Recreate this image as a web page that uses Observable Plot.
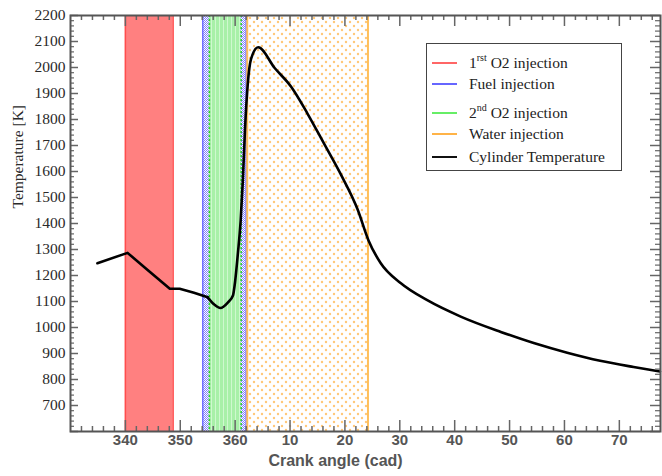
<!DOCTYPE html>
<html><head><meta charset="utf-8">
<script src="https://cdn.jsdelivr.net/npm/d3@7"></script>
<script src="https://cdn.jsdelivr.net/npm/@observablehq/plot@0.6"></script>
<style>
body{margin:0;background:#fff;}
#wrap{position:relative;width:662px;height:476px;}
#legend{position:absolute;left:426px;top:43px;width:196px;height:128px;border:1.5px solid #444;background:#fff;font-family:"Liberation Serif","Times New Roman",serif;font-size:15.5px;color:#222;box-sizing:border-box}
.row{position:absolute;left:0;height:20px;display:flex;align-items:center;white-space:nowrap}
.sw{width:25px;height:0;border-top:2px solid;margin-left:5px;margin-right:12px}
.sup{font-size:10px;position:relative;top:-7px}
</style>
</head><body>
<div id="wrap"></div>
<script>
// ---- data ----
const angle = [334.9, 340.4, 344.0, 348.1, 349.9, 352.5, 355.0, 356.2, 357.3, 358.7, 359.6, 360.0, 360.5, 361.0, 361.4, 361.8, 362.3, 362.9, 364.2, 367.2, 370.2, 373.2, 376.2, 379.3, 382.3, 384.3, 386.5, 390.2, 395.0, 401.1, 408.4, 414.4, 420.5, 426.5, 432.6, 437.4];
const temperature = [1247, 1287, 1222, 1149, 1149, 1134, 1116, 1088, 1075, 1097, 1123, 1178, 1285, 1410, 1565, 1765, 1937, 2033, 2078, 1998, 1926, 1822, 1707, 1587, 1455, 1335, 1248, 1170, 1105, 1042, 983, 940, 903, 872, 848, 831];
const bandNames = ["1rst O2 injection", "Fuel injection", "2nd O2 injection", "Water injection"];
const bandStart = [340, 354.1, 355.3, 362.2];
const bandEnd = [348.7, 362.0, 361.1, 384.2];
const xTickValues = [340, 350, 360, 370, 380, 390, 400, 410, 420, 430];
const xTickLabels = ["340", "350", "360", "10", "20", "30", "40", "50", "60", "70"];
const yTickValues = [700, 800, 900, 1000, 1100, 1200, 1300, 1400, 1500, 1600, 1700, 1800, 1900, 2000, 2100, 2200];

// ---- styles ----
const bandFill = ["#ff8080", "url(#bluePat)", "url(#greenPat)", "url(#orangePat)"];
const bandEdge = ["#ff4d4d", "#6f6fff", "#2fcf2f", "#ffbf5a"];
const bandDash = [null, null, "2,2", null];

const W = 662, H = 476, mL = 70, mR = 2, mT = 15, mB = 45;
const innerW = W - mL - mR, innerH = H - mT - mB;

const curve = angle.map((a, i) => ({a, t: temperature[i]}));
const bands = bandNames.map((n, i) => ({name: n, i, start: bandStart[i], end: bandEnd[i]}));
const edges = bands.flatMap(b => [{x: b.start, i: b.i}, {x: b.end, i: b.i}]);
const xMinor = d3.range(330, 438, 2).filter(v => v % 10 !== 0);
const yMinor = d3.range(600, 2200, 20).filter(v => v % 100 !== 0);
const yMajorAll = [600, ...yTickValues];
const tickC = "#666";
const lineStyle = {x: "a", y: "t", stroke: "black", strokeWidth: 2.6, strokeLinejoin: "round", strokeLinecap: "round"};

const svg = Plot.plot({
  width: W, height: H,
  marginLeft: mL, marginRight: mR, marginTop: mT, marginBottom: mB,
  x: {domain: [330, 437.5], axis: null},
  y: {domain: [600, 2200], axis: null},
  color: {type: "identity"},
  style: {background: "white", overflow: "visible"},
  marks: [
    Plot.rect(bands, {x1: "start", x2: "end", fill: d => bandFill[d.i]}),
    ...edges.map(e => Plot.ruleX([e], {x: "x", stroke: bandEdge[e.i], strokeWidth: e.i === 3 ? 2 : 1.5, strokeDasharray: bandDash[e.i]})),
    Plot.line(curve.filter(d => d.a <= 355), {...lineStyle, curve: "linear"}),
    Plot.line(curve.filter(d => d.a >= 355), {...lineStyle, curve: "monotone-x"}),
    // inward ticks
    Plot.tickX(xMinor, {x: d => d, insetTop: innerH - 5, stroke: tickC, strokeWidth: 1.5}),
    Plot.tickX(xTickValues, {x: d => d, insetTop: innerH - 11, stroke: tickC, strokeWidth: 1.5}),
    Plot.tickX(xMinor, {x: d => d, insetBottom: innerH - 5, stroke: tickC, strokeWidth: 1.5}),
    Plot.tickX(xTickValues, {x: d => d, insetBottom: innerH - 11, stroke: tickC, strokeWidth: 1.5}),
    Plot.tickY(yMinor, {y: d => d, insetRight: innerW - 4, stroke: tickC, strokeWidth: 1.2}),
    Plot.tickY(yMajorAll, {y: d => d, insetRight: innerW - 8, stroke: tickC, strokeWidth: 1.5}),
    Plot.tickY(yMinor, {y: d => d, insetLeft: innerW - 5, stroke: tickC, strokeWidth: 1.2}),
    Plot.tickY(yMajorAll, {y: d => d, insetLeft: innerW - 10, stroke: tickC, strokeWidth: 1.5}),
    Plot.frame({stroke: "#555", strokeWidth: 2}),
    // tick labels
    Plot.text(xTickValues, {x: d => d, frameAnchor: "bottom", dy: 13, text: (d, i) => xTickLabels[i],
      fontSize: 15, fontWeight: "bold", fontFamily: "Liberation Sans, Arial, sans-serif", fill: "#555"}),
    Plot.text(yTickValues, {y: d => d, frameAnchor: "left", dx: -5, textAnchor: "end", text: d => String(d),
      fontSize: 15.5, fontFamily: "Liberation Serif, Times New Roman, serif", fill: "#2a2a2a"}),
    Plot.text(["Crank angle (cad)"], {frameAnchor: "bottom", dy: 34, dx: -30, text: d => d,
      fontSize: 16, fontWeight: "bold", fontFamily: "Liberation Sans, Arial, sans-serif", fill: "#555"}),
    Plot.text(["Temperature [K]"], {frameAnchor: "left", dx: -52, dy: -15, rotate: -90, text: d => d,
      fontSize: 15.5, fontFamily: "Liberation Serif, Times New Roman, serif", fill: "#2a2a2a"})
  ]
});

// patterns
const defs = d3.select(svg).insert("defs", ":first-child");
const bp = defs.append("pattern").attr("id", "bluePat").attr("patternUnits", "userSpaceOnUse").attr("width", 2).attr("height", 2);
bp.append("rect").attr("width", 2).attr("height", 2).attr("fill", "#ffffff");
bp.append("rect").attr("width", 1).attr("height", 1).attr("fill", "#8080ff");
bp.append("rect").attr("x", 1).attr("y", 1).attr("width", 1).attr("height", 1).attr("fill", "#8080ff");
const gp = defs.append("pattern").attr("id", "greenPat").attr("patternUnits", "userSpaceOnUse").attr("width", 4).attr("height", 4);
gp.append("rect").attr("width", 4).attr("height", 4).attr("fill", "#a8f0a8");
gp.append("rect").attr("x", 3).attr("width", 1).attr("height", 4).attr("fill", "#cff8cf");
const op = defs.append("pattern").attr("id", "orangePat").attr("patternUnits", "userSpaceOnUse").attr("width", 8).attr("height", 8);
op.append("rect").attr("width", 8).attr("height", 8).attr("fill", "#ffffff");
op.append("circle").attr("cx", 2).attr("cy", 2).attr("r", 1.2).attr("fill", "#ffc878");
op.append("circle").attr("cx", 6).attr("cy", 6).attr("r", 1.2).attr("fill", "#ffc878");

const wrap = document.getElementById("wrap");
wrap.appendChild(svg);

// legend
const legendColors = ["#ff6666", "#6666ff", "#66ee66", "#ffb347", "#111111"];
const legendHTML = [
  '1<span class="sup">rst</span> O2 injection',
  'Fuel injection',
  '2<span class="sup">nd</span> O2 injection',
  'Water injection',
  'Cylinder Temperature'
];
const rowCenters = [19, 40, 69, 90, 113];
const leg = document.createElement("div");
leg.id = "legend";
leg.innerHTML = legendHTML.map((h, i) =>
  `<div class="row" style="top:${rowCenters[i] - 10}px"><span class="sw" style="border-color:${legendColors[i]}"></span><span>${h}</span></div>`).join("");
wrap.appendChild(leg);
</script>
</body></html>
